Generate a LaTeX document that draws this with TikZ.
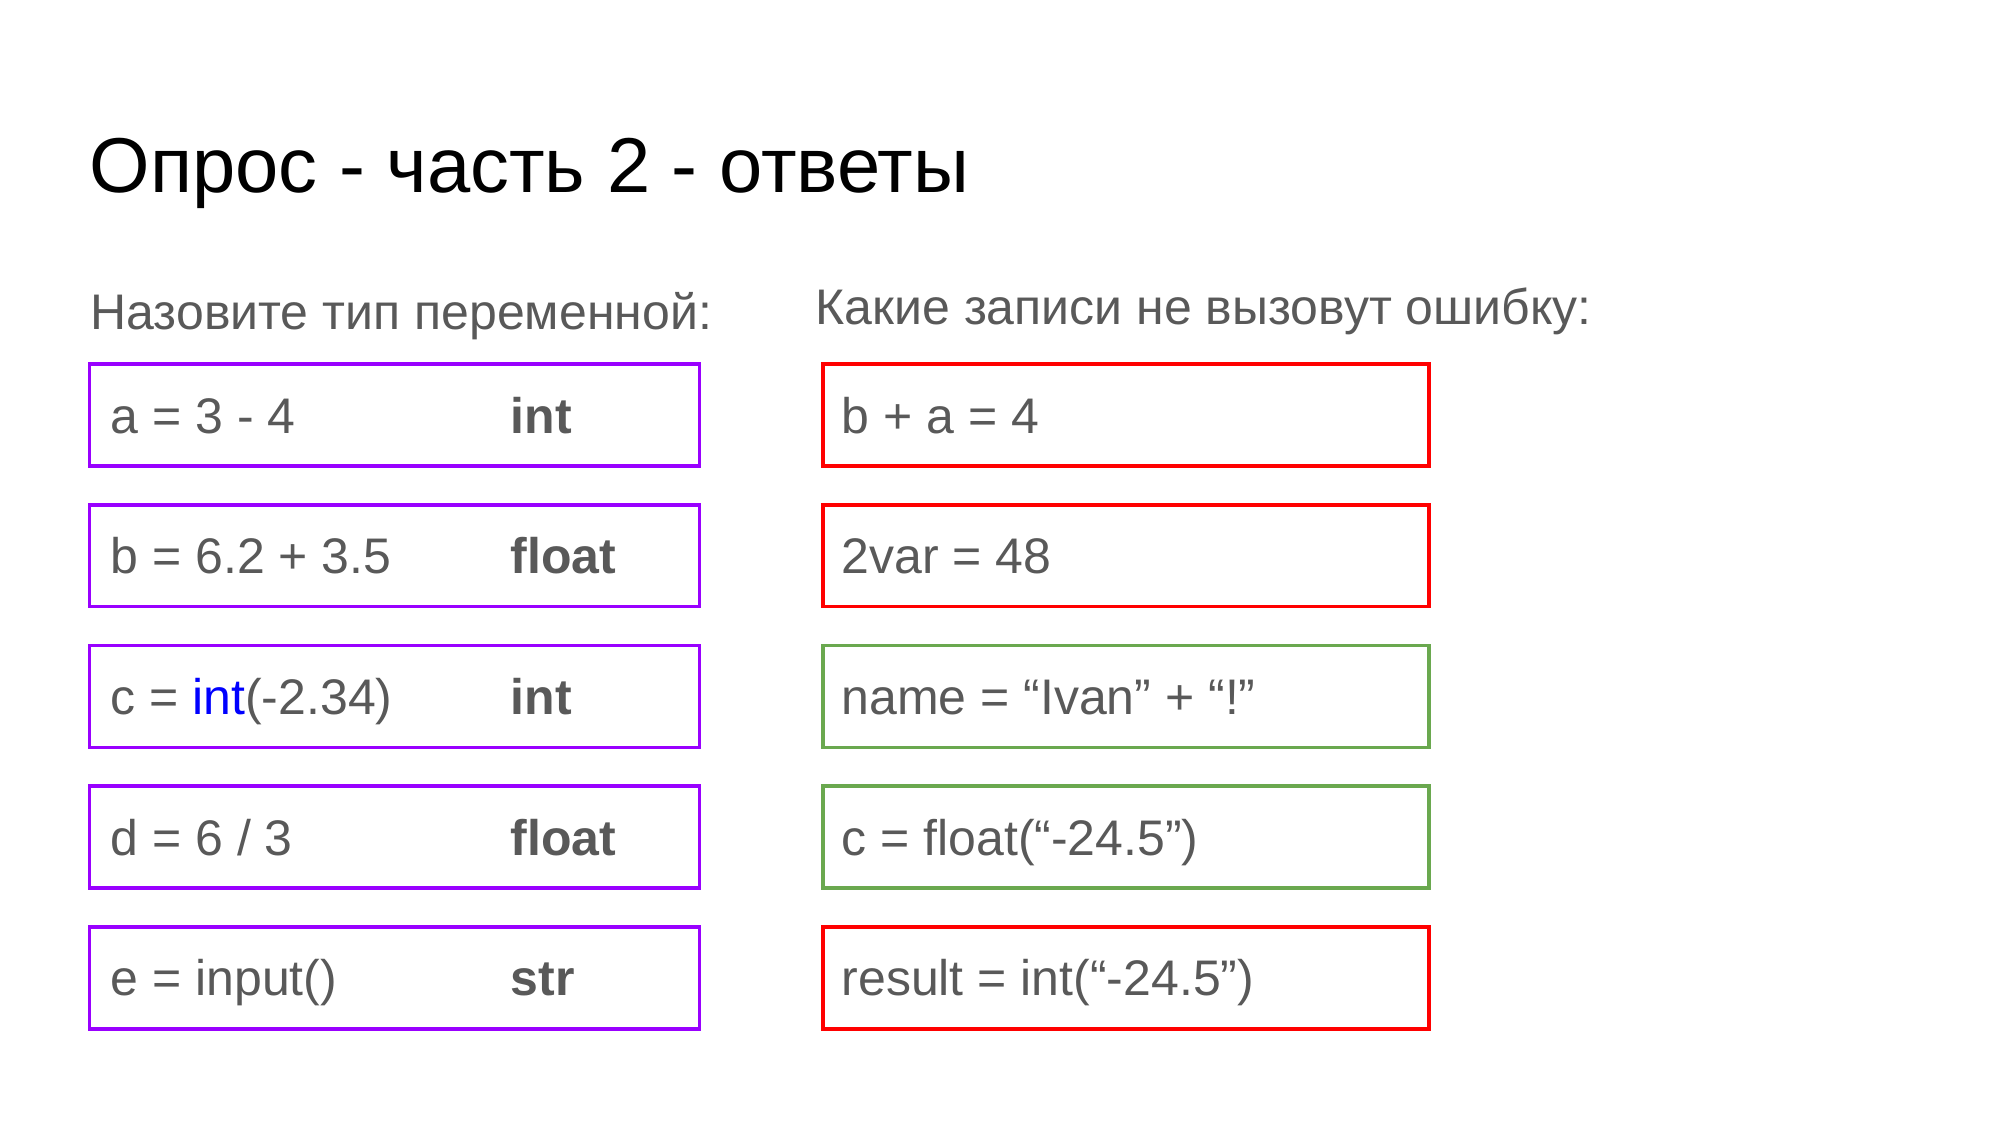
\documentclass[tikz,border=0pt]{standalone}
\usepackage{fontspec}
\setmainfont{Liberation Sans}
\definecolor{txtgray}{HTML}{595959}
\definecolor{pur}{HTML}{9900FF}
\definecolor{redb}{HTML}{FF0000}
\definecolor{greenb}{HTML}{6AA84F}
\definecolor{blu}{HTML}{0000FF}
\begin{document}
\begin{tikzpicture}[x=0.36pt,y=-0.36pt,
  box/.style={draw, line width=1.3pt, minimum height=36.7pt, inner sep=0pt},
  lbox/.style={box, draw=pur, minimum width=219.6pt},
  rbad/.style={box, draw=redb, minimum width=218.2pt},
  rgood/.style={box, draw=greenb, minimum width=218.2pt},
  code/.style={anchor=base west, inner sep=0pt, text=txtgray, font=\fontsize{18}{21.6}\selectfont},
  ans/.style={code, font=\fontsize{18}{21.6}\selectfont\bfseries},
  head/.style={anchor=base west, inner sep=0pt, text=txtgray, font=\fontsize{18}{21.6}\selectfont},
]
\useasboundingbox (0,0) rectangle (2000,1125);
\fill[white] (0,0) rectangle (2000,1125);
\node[anchor=base west, inner sep=0pt, font=\fontsize{28}{33.6}\selectfont] (title) at (89,192) {Опрос - часть 2 - ответы};
\node[head] (hl) at (90,329) {Назовите тип переменной:};
\node[head] (hr) at (815,324) {Какие записи не вызовут ошибку:};
% left boxes
\node[lbox] (l1) at (394.5,415) {};
\node[lbox] (l2) at (394.5,555.7) {};
\node[lbox] (l3) at (394.5,696.4) {};
\node[lbox] (l4) at (394.5,837.1) {};
\node[lbox] (l5) at (394.5,977.8) {};
\node[code] (c1) at (110,433) {a = 3 - 4};
\node[code] (c2) at (110,573.7) {b = 6.2 + 3.5};
\node[code] (c3) at (110,714.4) {c = \textcolor{blu}{int}(-2.34)};
\node[code] (c4) at (110,855.1) {d = 6 / 3};
\node[code] (c5) at (110,995.8) {e = input()};
\node[ans] (a1) at (510,433) {int};
\node[ans] (a2) at (510,573.7) {float};
\node[ans] (a3) at (510,714.4) {int};
\node[ans] (a4) at (510,855.1) {float};
\node[ans] (a5) at (510,995.8) {str};
% right boxes
\node[rbad] (r1) at (1126,415) {};
\node[rbad] (r2) at (1126,555.7) {};
\node[rgood] (r3) at (1126,696.4) {};
\node[rgood] (r4) at (1126,837.1) {};
\node[rbad] (r5) at (1126,977.8) {};
\node[code] (d1) at (841,433) {b + a = 4};
\node[code] (d2) at (841,573.7) {2var = 48};
\node[code] (d3) at (841,714.4) {name = “Ivan” + “!”};
\node[code] (d4) at (841,855.1) {c = float(“-24.5”)};
\node[code] (d5) at (841,995.8) {result = int(“-24.5”)};
\end{tikzpicture}
\end{document}
